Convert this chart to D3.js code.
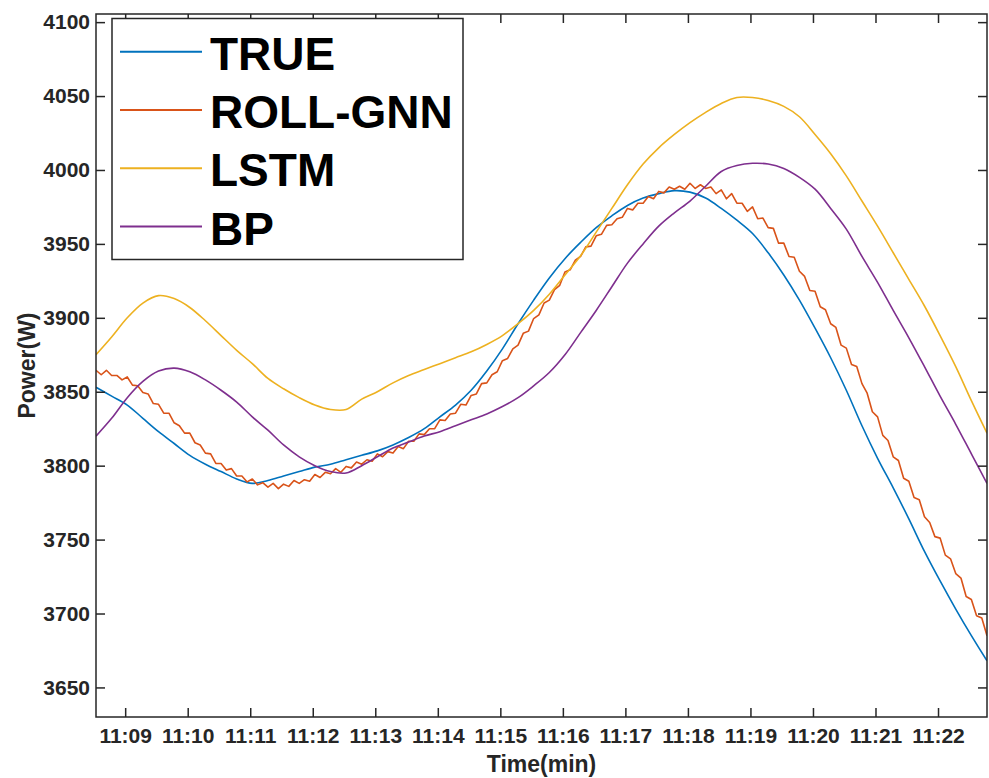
<!DOCTYPE html>
<html>
<head>
<meta charset="utf-8">
<script src="https://cdn.jsdelivr.net/npm/d3@7"></script>
<style>
  body { margin: 0; background: #fff; }
  svg text { font-family: "Liberation Sans", Arial, sans-serif; font-weight: bold; }
</style>
</head>
<body>
<div id="chart"></div>
<script>
// samples start at 11:08:32, x in minutes past 11:00
var startMin = 8 + 32 / 60;
var coarseStep = 15 / 60;  // TRUE, LSTM, BP read every 15 s
var fineStep = 5 / 60;     // ROLL-GNN read every 5 s (it is noisy)

var seriesNames = ['TRUE', 'ROLL-GNN', 'LSTM', 'BP'];
var seriesColors = ['#0072BD', '#D95319', '#EDB120', '#7E2F8E'];

var trueVals = [
  3853, 3847, 3841, 3832, 3823, 3815, 3807, 3801, 3796, 3791,
  3788, 3790, 3793, 3796, 3799, 3801, 3804, 3807, 3810, 3814,
  3819, 3825, 3833, 3841, 3851, 3864, 3879, 3896, 3912, 3927,
  3940, 3951, 3961, 3969, 3976, 3981, 3984, 3986, 3985, 3981,
  3974, 3966, 3957, 3944, 3929, 3912, 3893, 3873, 3851, 3827,
  3805, 3785, 3764, 3742, 3722, 3703, 3685, 3668
];

var rollGnnVals = [
  3864.5, 3861.5, 3864.5, 3861, 3861, 3858, 3860, 3854.5, 3854, 3849.5, 3848.5, 3842,
  3841.5, 3835.5, 3835.5, 3829, 3827, 3822, 3822, 3815.5, 3814, 3808.5, 3808, 3801.5,
  3801.5, 3797, 3798, 3793, 3793, 3789, 3791, 3787, 3788.5, 3785.5, 3788, 3784.5,
  3787.5, 3786, 3790, 3788, 3790.5, 3789.5, 3794, 3792, 3795.5, 3794.5, 3798, 3795.5,
  3799.5, 3798.5, 3802.5, 3801, 3804, 3803, 3808, 3806, 3809.5, 3808.5, 3813, 3811.5,
  3816.5, 3816.5, 3821.5, 3821, 3825, 3825, 3831, 3830.5, 3835, 3835.5, 3841.5, 3841,
  3847.5, 3848.5, 3855.5, 3856, 3861.5, 3863.5, 3871, 3872.5, 3879, 3881.5, 3889.5, 3891,
  3899.5, 3902, 3910, 3912, 3919, 3922, 3931, 3932.5, 3939, 3941.5, 3948, 3948.5,
  3955.5, 3956.5, 3962.5, 3963, 3967, 3968, 3974, 3973, 3977.5, 3977.5, 3982, 3980.5,
  3985.5, 3984.5, 3988.5, 3987, 3989, 3987, 3991, 3987.5, 3990, 3987.5, 3988.5, 3984,
  3986.5, 3980.5, 3984, 3977.5, 3977.5, 3972, 3975, 3967, 3967.5, 3961, 3960.5, 3950.5,
  3950.5, 3941.5, 3941, 3931.5, 3928, 3918.5, 3918, 3907.5, 3905.5, 3896, 3893.5, 3881.5,
  3879.5, 3868.5, 3867, 3855.5, 3849, 3836.5, 3833, 3820.5, 3817, 3806, 3803.5, 3791.5,
  3789.5, 3778.5, 3777, 3765.5, 3761.5, 3752, 3751, 3739.5, 3737, 3727, 3724, 3711.5,
  3709.5, 3698.5, 3697, 3685
];

var lstmVals = [
  3875, 3887, 3900, 3910, 3915, 3913, 3907, 3898, 3888, 3878,
  3869, 3859, 3852, 3846, 3841, 3838, 3838, 3845, 3850, 3856,
  3861, 3865, 3869, 3873, 3877, 3882, 3888, 3896, 3905, 3916,
  3929, 3942, 3958, 3974, 3990, 4004, 4015, 4024, 4032, 4039,
  4045, 4049, 4049, 4047, 4043, 4036, 4024, 4011, 3996, 3979,
  3962, 3944, 3926, 3908, 3888, 3867, 3844, 3822
];

var bpVals = [
  3820, 3832, 3846, 3857, 3864, 3866, 3863.5, 3858, 3851, 3843,
  3833, 3824, 3814, 3806, 3800, 3796, 3795, 3800, 3806, 3812,
  3816, 3820, 3823, 3827, 3831, 3835, 3840, 3846, 3854, 3863,
  3875, 3890, 3905, 3921, 3937, 3950, 3962, 3971, 3979, 3989,
  3999, 4003, 4004.5, 4004, 4001, 3995, 3987, 3974, 3960, 3941.5,
  3924, 3905, 3886.5, 3867, 3847, 3828, 3808, 3788
];

var xTicks = [9, 10, 11, 12, 13, 14, 15, 16, 17, 18, 19, 20, 21, 22];
var xTickLabels = ['11:09', '11:10', '11:11', '11:12', '11:13', '11:14', '11:15',
  '11:16', '11:17', '11:18', '11:19', '11:20', '11:21', '11:22'];
var yTicks = [3650, 3700, 3750, 3800, 3850, 3900, 3950, 4000, 4050, 4100];

var W = 989, H = 778;
var plotL = 96, plotT = 14, plotR = 987, plotB = 717;
var axisColor = '#262626';

var svg = d3.select('#chart')
  .append('svg')
  .attr('width', W)
  .attr('height', H);

var x = d3.scaleLinear()
  .domain([startMin, startMin + 57 * coarseStep])
  .range([plotL, plotR]);
var y = d3.scaleLinear()
  .domain([3630, 4105.5])
  .range([plotB, plotT]);

svg.append('clipPath')
  .attr('id', 'plot-clip')
  .append('rect')
  .attr('x', plotL)
  .attr('y', plotT)
  .attr('width', plotR - plotL)
  .attr('height', plotB - plotT);

// series
var series = [
  {vals: trueVals, step: coarseStep, curve: d3.curveCatmullRom},
  {vals: rollGnnVals, step: fineStep, curve: d3.curveLinear},
  {vals: lstmVals, step: coarseStep, curve: d3.curveCatmullRom},
  {vals: bpVals, step: coarseStep, curve: d3.curveCatmullRom}
];

var plot = svg.append('g').attr('clip-path', 'url(#plot-clip)');
series.forEach(function(s, k) {
  var line = d3.line()
    .x(function(d, i) { return x(startMin + i * s.step); })
    .y(function(d) { return y(d); })
    .curve(s.curve);
  plot.append('path')
    .datum(s.vals)
    .attr('fill', 'none')
    .attr('stroke', seriesColors[k])
    .attr('stroke-width', 1.6)
    .attr('stroke-linejoin', 'round')
    .attr('d', line);
});

// axes, matlab style box with inward ticks
function styleAxis(g) {
  g.select('.domain').remove();
  g.selectAll('line').attr('stroke', axisColor).attr('stroke-width', 1.5);
  g.selectAll('text')
    .attr('fill', axisColor)
    .style('font-size', '21px');
}

svg.append('g')
  .attr('transform', 'translate(0,' + plotB + ')')
  .call(d3.axisBottom(x).tickValues(xTicks)
    .tickFormat(function(d, i) { return xTickLabels[i]; })
    .tickSizeInner(-9).tickSizeOuter(0).tickPadding(11))
  .call(styleAxis);

svg.append('g')
  .attr('transform', 'translate(0,' + plotT + ')')
  .call(d3.axisTop(x).tickValues(xTicks).tickFormat('')
    .tickSizeInner(-9).tickSizeOuter(0))
  .call(styleAxis);

svg.append('g')
  .attr('transform', 'translate(' + plotL + ',0)')
  .call(d3.axisLeft(y).tickValues(yTicks).tickFormat(d3.format('d'))
    .tickSizeInner(-9).tickSizeOuter(0).tickPadding(6))
  .call(styleAxis);

svg.append('g')
  .attr('transform', 'translate(' + plotR + ',0)')
  .call(d3.axisRight(y).tickValues(yTicks).tickFormat('')
    .tickSizeInner(-9).tickSizeOuter(0))
  .call(styleAxis);

svg.append('rect')
  .attr('x', plotL)
  .attr('y', plotT)
  .attr('width', plotR - plotL)
  .attr('height', plotB - plotT)
  .attr('fill', 'none')
  .attr('stroke', axisColor)
  .attr('stroke-width', 1.5);

// axis titles
svg.append('text')
  .attr('x', (plotL + plotR) / 2)
  .attr('y', 772)
  .attr('text-anchor', 'middle')
  .attr('fill', axisColor)
  .style('font-size', '23px')
  .text('Time(min)');

svg.append('text')
  .attr('transform', 'translate(35,' + ((plotT + plotB) / 2) + ') rotate(-90)')
  .attr('text-anchor', 'middle')
  .attr('fill', axisColor)
  .style('font-size', '23px')
  .text('Power(W)');

// legend
var legend = svg.append('g');
legend.append('rect')
  .attr('x', 112)
  .attr('y', 18.5)
  .attr('width', 351)
  .attr('height', 241)
  .attr('fill', '#fff')
  .attr('stroke', axisColor)
  .attr('stroke-width', 1.5);

var rows = legend.selectAll('g.row')
  .data(seriesNames)
  .enter()
  .append('g')
  .attr('class', 'row')
  .attr('transform', function(d, i) { return 'translate(0,' + (51.7 + i * 58.3) + ')'; });

rows.append('line')
  .attr('x1', 120)
  .attr('x2', 202)
  .attr('stroke', function(d, i) { return seriesColors[i]; })
  .attr('stroke-width', 2);

rows.append('text')
  .attr('x', 210)
  .attr('y', 18)
  .attr('fill', '#000')
  .style('font-size', '46px')
  .text(function(d) { return d; });
</script>
</body>
</html>
